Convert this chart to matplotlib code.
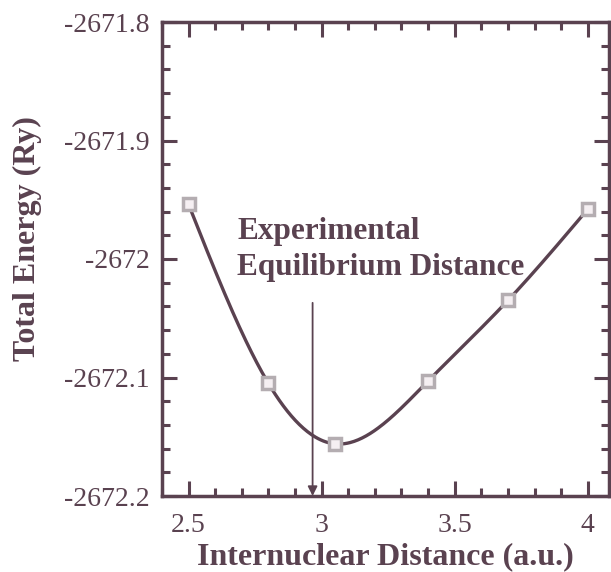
import numpy as np
import matplotlib
matplotlib.use("Agg")
import matplotlib.pyplot as plt
from matplotlib.ticker import MultipleLocator

distance = [2.5, 2.8, 3.05, 3.4, 3.7, 4.0]
energy = [-2671.954, -2672.105, -2672.156, -2672.103, -2672.035, -2671.958]
exp_distance = 2.966
arrow_top = -2672.037
xticks = [2.5, 3, 3.5, 4]
xticklabels = ["2.5", "3", "3.5", "4"]
yticks = [-2672.2, -2672.1, -2672.0, -2671.9, -2671.8]
yticklabels = ["-2672.2", "-2672.1", "-2672", "-2671.9", "-2671.8"]

col = "#5a4250"
plt.rcParams['font.family'] = ['Liberation Serif', 'DejaVu Serif']


def natural_spline(x, y, xs):
    x = np.asarray(x, float); y = np.asarray(y, float)
    n = len(x)
    h = np.diff(x)
    A = np.zeros((n, n)); b = np.zeros(n)
    A[0, 0] = 1; A[-1, -1] = 1
    for i in range(1, n - 1):
        A[i, i - 1] = h[i - 1]; A[i, i] = 2 * (h[i - 1] + h[i]); A[i, i + 1] = h[i]
        b[i] = 3 * ((y[i + 1] - y[i]) / h[i] - (y[i] - y[i - 1]) / h[i - 1])
    c = np.linalg.solve(A, b)
    out = np.empty_like(xs)
    for k, xv in enumerate(xs):
        i = min(max(np.searchsorted(x, xv) - 1, 0), n - 2)
        d = (c[i + 1] - c[i]) / (3 * h[i])
        bb = (y[i + 1] - y[i]) / h[i] - h[i] * (2 * c[i] + c[i + 1]) / 3
        t = xv - x[i]
        out[k] = y[i] + bb * t + c[i] * t ** 2 + d * t ** 3
    return out


fig = plt.figure(figsize=(6.11, 5.72), dpi=100)
ax = fig.add_axes([162 / 611, 76 / 572, 447 / 611, 474 / 572])

xs = np.linspace(distance[0], distance[-1], 300)
ax.plot(xs, natural_spline(distance, energy, xs), color=col, lw=2.4, zorder=2)
ax.plot(distance, energy, 's', ms=8.5, mfc='#f5eff2', mec='#b4adb1', mew=2.5, zorder=3)

ax.annotate("", xy=(exp_distance, -2672.2), xytext=(exp_distance, arrow_top),
            arrowprops=dict(arrowstyle='-|>', color=col, lw=1.3, mutation_scale=14,
                            shrinkA=0, shrinkB=0))
ax.text(2.682, -2672.0135, "Experimental\nEquilibrium Distance", fontsize=22.5,
        fontweight='bold', color=col, ha='left', va='baseline', linespacing=1.3)

ax.set_xlim(2.4, 4.08)
ax.set_ylim(-2672.2, -2671.8)
ax.set_xticks(xticks)
ax.set_xticklabels(xticklabels)
ax.set_yticks(yticks)
ax.set_yticklabels(yticklabels)
ax.xaxis.set_minor_locator(MultipleLocator(0.1))
ax.yaxis.set_minor_locator(MultipleLocator(0.02))
ax.tick_params(which='both', direction='in', top=True, right=True, color=col,
               labelcolor=col, labelsize=20, width=2.2)
ax.tick_params(which='major', length=11)
ax.tick_params(which='minor', length=6)
ax.tick_params(axis='y', pad=9)
ax.tick_params(axis='x', pad=12)
for s in ax.spines.values():
    s.set_color(col); s.set_linewidth(2.5)

ax.set_xlabel("Internuclear Distance (a.u.)", fontsize=23, fontweight='bold', color=col)
ax.set_ylabel("Total Energy (Ry)", fontsize=23, fontweight='bold', color=col)
ax.xaxis.set_label_coords(0.5, -0.098)
ax.yaxis.set_label_coords(-0.268, 0.544)

fig.savefig("out.png", dpi=100)
